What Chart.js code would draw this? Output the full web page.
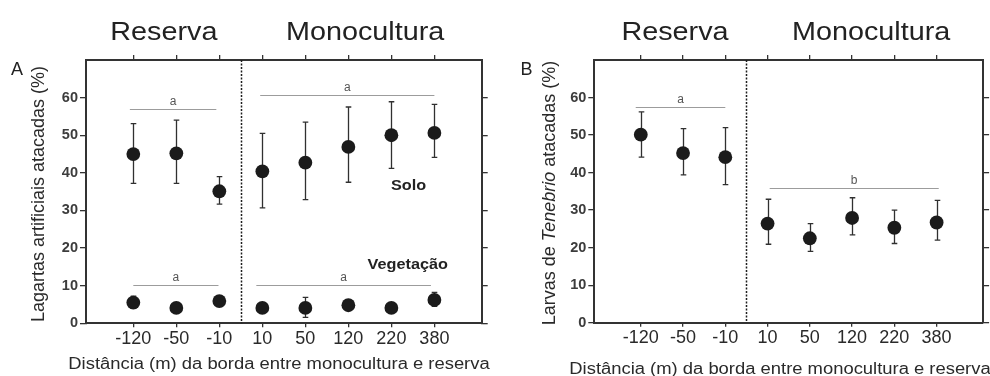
<!DOCTYPE html>
<html>
<head>
<meta charset="utf-8">
<script src="https://cdn.jsdelivr.net/npm/chart.js@4.4.1/dist/chart.umd.min.js"></script>
<style>
  html, body { margin: 0; padding: 0; background: #fff; }
  #wrap { position: relative; width: 990px; height: 376px; overflow: hidden; }
  .panel { position: absolute; top: 0; width: 495px; height: 376px; }
</style>
</head>
<body>
<div id="wrap">
  <div class="panel" style="left:0"><canvas id="chartA" width="495" height="376"></canvas></div>
  <div class="panel" style="left:495px"><canvas id="chartB" width="495" height="376"></canvas></div>
</div>
<script>
// Distance (m) from the reserve / monoculture edge
const distances = ['-120', '-50', '-10', '10', '50', '120', '220', '380'];
const yTicks = [0, 10, 20, 30, 40, 50, 60];

// A: artificial caterpillars attacked (%), ground ("Solo")
const soloMean  = [45.0, 45.2, 35.1, 40.4, 42.7, 46.9, 50.0, 50.6];
const soloUpper = [53.1, 54.0, 39.0, 50.5, 53.5, 57.5, 58.9, 58.2];
const soloLower = [37.2, 37.2, 31.7, 30.7, 32.9, 37.5, 41.2, 44.1];

// A: artificial caterpillars attacked (%), vegetation ("Vegetação")
const vegMean  = [5.5, 4.1, 5.9, 4.1, 4.1, 4.8, 4.1, 6.2];
const vegUpper = [7.2, 4.1, 6.8, 4.1, 6.9, 6.2, 4.1, 8.2];
const vegLower = [4.0, 4.1, 5.0, 4.1, 1.6, 3.6, 4.1, 4.5];

// B: Tenebrio larvae attacked (%)
const tenMean  = [50.1, 45.2, 44.1, 26.4, 22.5, 27.9, 25.3, 26.7];
const tenUpper = [56.2, 51.7, 52.0, 32.9, 26.4, 33.3, 30.0, 32.6];
const tenLower = [44.1, 39.4, 36.8, 20.9, 19.0, 23.4, 21.1, 22.0];

// Significance groups: category span, level (%) and letter
const sigFromA   = [-0.08, 2.95, 0.0, 2.86];
const sigToA     = [1.93, 7.0, 1.98, 6.92];
const sigLevelA  = [56.9, 60.6, 10.1, 10.1];
const sigLetterA = ['a', 'a', 'a', 'a'];

const sigFromB   = [-0.12, 3.05];
const sigToB     = [2.0, 7.05];
const sigLevelB  = [57.4, 35.8];
const sigLetterB = ['a', 'b'];

const FONT = "'Liberation Sans', Arial, Helvetica, sans-serif";
const INK = '#222';

function stretchedText(ctx, text, x, y, font, align, sx) {
  ctx.save();
  ctx.font = font;
  ctx.textBaseline = 'alphabetic';
  ctx.textAlign = 'left';
  const w = ctx.measureText(text).width * sx;
  let left = x;
  if (align === 'center') left = x - w / 2;
  else if (align === 'right') left = x - w;
  ctx.translate(left, y);
  ctx.scale(sx, 1);
  ctx.fillText(text, 0, 0);
  ctx.restore();
}

const decor = {
  id: 'decor',
  beforeDatasetsDraw(chart, args, o) {
    const ctx = chart.ctx, xs = chart.scales.x, ys = chart.scales.y, ca = chart.chartArea;
    ctx.save();
    // zone divider between reserve and monoculture
    const dx = Math.round(xs.getPixelForValue(o.divider)) + 0.5;
    ctx.strokeStyle = '#1e1e1e';
    ctx.lineWidth = 1.5;
    ctx.setLineDash([2, 1.5]);
    ctx.beginPath();
    ctx.moveTo(dx, ca.top);
    ctx.lineTo(dx, ca.bottom);
    ctx.stroke();
    ctx.setLineDash([]);

    // significance bars with letters
    ctx.strokeStyle = '#9c9c9c';
    ctx.lineWidth = 1.1;
    ctx.fillStyle = '#555';
    ctx.font = '12px ' + FONT;
    ctx.textAlign = 'center';
    ctx.textBaseline = 'alphabetic';
    o.sigFrom.forEach((f, i) => {
      const x1 = xs.getPixelForValue(f), x2 = xs.getPixelForValue(o.sigTo[i]);
      const y = Math.round(ys.getPixelForValue(o.sigLevel[i])) + 0.5;
      ctx.beginPath();
      ctx.moveTo(x1, y);
      ctx.lineTo(x2, y);
      ctx.stroke();
      ctx.fillText(o.sigLetter[i], (x1 + x2) / 2, y - 5);
    });

    // error bars
    ctx.strokeStyle = '#303030';
    ctx.lineWidth = 1.3;
    o.errors.forEach(e => {
      e.upper.forEach((u, i) => {
        const lo = e.lower[i];
        if (u - lo < 0.05) return;
        const x = Math.round(xs.getPixelForValue(i)) + 0.5;
        const yu = ys.getPixelForValue(u), yl = ys.getPixelForValue(lo);
        ctx.beginPath();
        ctx.moveTo(x, yu); ctx.lineTo(x, yl);
        ctx.moveTo(x - 2.8, yu); ctx.lineTo(x + 2.8, yu);
        ctx.moveTo(x - 2.8, yl); ctx.lineTo(x + 2.8, yl);
        ctx.stroke();
      });
    });
    ctx.restore();
  },
  afterDraw(chart, args, o) {
    const ctx = chart.ctx, xs = chart.scales.x, ys = chart.scales.y;
    ctx.save();
    ctx.fillStyle = INK;
    // zone headings
    o.headings.forEach(h => {
      stretchedText(ctx, h.text, xs.getPixelForValue(h.at), 39.5, '25px ' + FONT, 'center', 1.15);
    });
    // panel letter
    stretchedText(ctx, o.letter, o.letterX, 75, '18px ' + FONT, 'left', 1.0);
    // series labels
    (o.seriesLabels || []).forEach(s => {
      stretchedText(ctx, s.text, xs.getPixelForValue(s.at), ys.getPixelForValue(s.level) + 5,
        'bold 14px ' + FONT, 'center', 1.16);
    });
    // x axis title
    ctx.fillStyle = '#2a2a2a';
    stretchedText(ctx, 'Distância (m) da borda entre monocultura e reserva',
      o.xTitleX, o.xTitleY, '16px ' + FONT, 'center', 1.15);

    // y axis title (rotated, mixed styles)
    ctx.save();
    ctx.translate(o.yTitleX, o.yTitleY);
    ctx.rotate(-Math.PI / 2);
    ctx.textBaseline = 'alphabetic';
    ctx.textAlign = 'left';
    const parts = o.yTitle;
    let total = 0;
    parts.forEach(p => { ctx.font = (p.italic ? 'italic ' : '') + '18px ' + FONT; total += ctx.measureText(p.t).width; });
    let cx = -total / 2;
    parts.forEach(p => {
      ctx.font = (p.italic ? 'italic ' : '') + '18px ' + FONT;
      ctx.fillText(p.t, cx, 0);
      cx += ctx.measureText(p.t).width;
    });
    ctx.restore();
    ctx.restore();
  }
};

function axisSet(sizes) {
  const grid = { display: true, drawOnChartArea: false, drawTicks: true, color: '#333', lineWidth: 1.3 };
  const border = { display: true, color: '#333', width: 2 };
  const catTicks = s => { s.ticks = distances.map((_, i) => ({ value: i })); };
  const valTicks = s => { s.ticks = yTicks.map(v => ({ value: v })); };
  return {
    x: {
      type: 'linear', position: 'bottom', min: -1.1, max: 8.1,
      afterBuildTicks: catTicks,
      ticks: { callback: v => distances[v], font: { size: 18, family: FONT }, color: '#2a2a2a',
               padding: 1, maxRotation: 0, autoSkip: false },
      grid: Object.assign({}, grid, { tickLength: 4 }),
      border: border,
      afterFit: s => { s.height = sizes.bottom; }
    },
    x2: {
      type: 'linear', position: 'top', min: -1.1, max: 8.1,
      afterBuildTicks: catTicks,
      ticks: { display: false },
      grid: Object.assign({}, grid, { tickLength: 5 }),
      border: border,
      afterFit: s => { s.height = sizes.top; }
    },
    y: {
      type: 'linear', position: 'left', min: 0, max: 70,
      afterBuildTicks: valTicks,
      ticks: { font: { size: 14.5, weight: 'bold', family: FONT }, color: '#3c3c3c', padding: 2 },
      grid: Object.assign({}, grid, { tickLength: 6 }),
      border: border,
      afterFit: s => { s.width = sizes.left; }
    },
    y2: {
      type: 'linear', position: 'right', min: 0, max: 70,
      afterBuildTicks: valTicks,
      ticks: { display: false },
      grid: Object.assign({}, grid, { tickLength: 6 }),
      border: border,
      afterFit: s => { s.width = sizes.right; }
    }
  };
}

function points(values) { return values.map((v, i) => ({ x: i, y: v })); }

function dotSet(label, values) {
  return {
    label: label, data: points(values),
    pointStyle: 'circle', pointRadius: 6.9, pointHoverRadius: 6.9,
    backgroundColor: '#1b1b1b', borderColor: '#1b1b1b', borderWidth: 0, showLine: false
  };
}

function build(id, datasets, decorOpts, sizes) {
  return new Chart(document.getElementById(id), {
    type: 'scatter',
    data: { datasets: datasets },
    options: {
      responsive: false, animation: false, events: [],
      layout: { padding: 0 },
      plugins: { legend: { display: false }, tooltip: { enabled: false }, decor: decorOpts },
      scales: axisSet(sizes)
    },
    plugins: [decor]
  });
}

build('chartA',
  [dotSet('Solo', soloMean), dotSet('Vegetação', vegMean)],
  {
    divider: 2.5,
    sigFrom: sigFromA, sigTo: sigToA, sigLevel: sigLevelA, sigLetter: sigLetterA,
    errors: [{ upper: soloUpper, lower: soloLower }, { upper: vegUpper, lower: vegLower }],
    headings: [{ text: 'Reserva', at: 0.71 }, { text: 'Monocultura', at: 5.39 }],
    letter: 'A', letterX: 11,
    seriesLabels: [{ text: 'Solo', at: 6.4, level: 36.8 }, { text: 'Vegetação', at: 6.38, level: 15.7 }],
    xTitleX: 279, xTitleY: 369,
    yTitleX: 44, yTitleY: 194,
    yTitle: [{ t: 'Lagartas artificiais atacadas (%)' }]
  },
  { left: 86, right: 13.3, top: 60, bottom: 52.7 }
);

build('chartB',
  [dotSet('Tenebrio', tenMean)],
  {
    divider: 2.5,
    sigFrom: sigFromB, sigTo: sigToB, sigLevel: sigLevelB, sigLetter: sigLetterB,
    errors: [{ upper: tenUpper, lower: tenLower }],
    headings: [{ text: 'Reserva', at: 0.81 }, { text: 'Monocultura', at: 5.45 }],
    letter: 'B', letterX: 25.5,
    seriesLabels: [],
    xTitleX: 285, xTitleY: 374,
    yTitleX: 59.5, yTitleY: 193,
    yTitle: [{ t: 'Larvas de ' }, { t: 'Tenebrio', italic: true }, { t: ' atacadas (%)' }]
  },
  { left: 99.3, right: 1.7, top: 60, bottom: 53.3 }
);
</script>
</body>
</html>
